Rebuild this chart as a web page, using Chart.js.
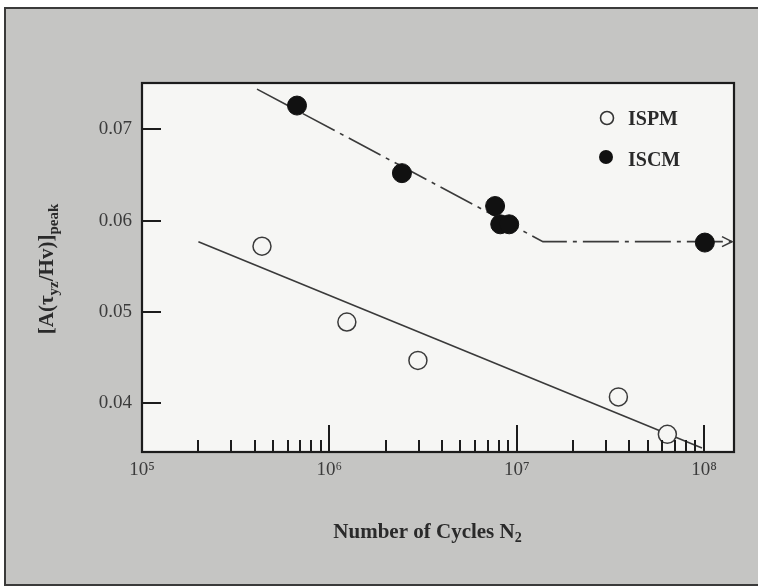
<!DOCTYPE html>
<html>
<head>
<meta charset="utf-8">
<script src="https://cdn.jsdelivr.net/npm/chart.js@4/dist/chart.umd.min.js"></script>
<style>
  html, body { margin: 0; padding: 0; background: #ffffff; }
  canvas { display: block; }
</style>
</head>
<body>
<canvas id="c" width="758" height="587"></canvas>
<script>
// ---- data ----
const ispmN = [4.37e5, 1.24e6, 2.97e6, 3.49e7, 6.37e7];
const ispmV = [0.0572, 0.0489, 0.0447, 0.0407, 0.0366];
const iscmN = [6.72e5, 2.44e6, 7.67e6, 8.17e6, 9.12e6, 1.01e8];
const iscmV = [0.0726, 0.0652, 0.0616, 0.0596, 0.0596, 0.0576];
const ispmFitN = [2.0e5, 9.75e7];
const ispmFitV = [0.0577, 0.0351];
const iscmFitN = [4.11e5, 1.38e7, 1.41e8];
const iscmFitV = [0.0744, 0.0577, 0.0577];
const yTicks = [0.04, 0.05, 0.06, 0.07];
const xTicks = [1e5, 1e6, 1e7, 1e8];
const xTickLabels = ['10\u2075', '10\u2076', '10\u2077', '10\u2078'];
const seriesNames = ['ISPM', 'ISCM'];

const pts = (xs, ys) => xs.map((x, i) => ({ x: x, y: ys[i] }));
const SERIF = '"Liberation Serif", "Times New Roman", serif';

const framePlugin = {
  id: 'frame',
  beforeDraw(chart) {
    const ctx = chart.ctx, a = chart.chartArea;
    ctx.save();
    ctx.fillStyle = '#ffffff';
    ctx.fillRect(0, 0, chart.width, chart.height);
    ctx.fillStyle = '#c5c5c3';
    ctx.fillRect(5, 8, chart.width - 5, 577);
    ctx.strokeStyle = '#3a3a3a';
    ctx.lineWidth = 2;
    ctx.beginPath();
    ctx.moveTo(chart.width, 8); ctx.lineTo(5, 8); ctx.lineTo(5, 585); ctx.lineTo(chart.width, 585);
    ctx.stroke();
    ctx.fillStyle = '#f6f6f4';
    ctx.fillRect(a.left, a.top, a.right - a.left, a.bottom - a.top);
    ctx.restore();
  },
  afterDraw(chart) {
    const ctx = chart.ctx, a = chart.chartArea;
    const xs = chart.scales.x, ys = chart.scales.y;
    ctx.save();
    // plot box
    ctx.strokeStyle = '#1c1c1c';
    ctx.lineWidth = 2.2;
    ctx.strokeRect(a.left, a.top, a.right - a.left, a.bottom - a.top);
    // inward y ticks
    ctx.lineWidth = 2;
    ctx.beginPath();
    yTicks.forEach(v => {
      const y = Math.round(ys.getPixelForValue(v));
      ctx.moveTo(a.left, y); ctx.lineTo(a.left + 19, y);
    });
    // inward x ticks (major + minor)
    for (let d = 5; d <= 8; d++) {
      for (let m = 1; m <= 9; m++) {
        const v = m * Math.pow(10, d);
        if (v <= xs.min || v >= xs.max) continue;
        const x = Math.round(xs.getPixelForValue(v));
        const len = m === 1 ? 27 : 12;
        ctx.moveTo(x, a.bottom); ctx.lineTo(x, a.bottom - len);
      }
    }
    ctx.stroke();
    // arrow head at the end of the ISCM trend line
    const meta = chart.getDatasetMeta(3);
    const last = meta.data[meta.data.length - 1];
    ctx.strokeStyle = '#3a3a3a';
    ctx.lineWidth = 1.6;
    ctx.beginPath();
    ctx.moveTo(last.x - 10, last.y - 5);
    ctx.lineTo(last.x, last.y);
    ctx.lineTo(last.x - 10, last.y + 5);
    ctx.stroke();
    // legend
    ctx.lineWidth = 1.6;
    ctx.strokeStyle = '#333';
    ctx.fillStyle = '#f6f6f4';
    ctx.beginPath(); ctx.arc(607, 118, 6.5, 0, Math.PI * 2); ctx.fill(); ctx.stroke();
    ctx.fillStyle = '#111';
    ctx.beginPath(); ctx.arc(606, 157, 7, 0, Math.PI * 2); ctx.fill();
    ctx.fillStyle = '#2a2a2a';
    ctx.font = 'bold 20px ' + SERIF;
    ctx.textAlign = 'left';
    ctx.textBaseline = 'alphabetic';
    ctx.fillText(seriesNames[0], 628, 125);
    ctx.fillText(seriesNames[1], 628, 166);
    // x axis title with subscript
    const mainF = 'bold 21px ' + SERIF, subF = 'bold 14px ' + SERIF;
    ctx.font = mainF;
    const t1 = 'Number of Cycles N';
    const w1 = ctx.measureText(t1).width;
    ctx.font = subF;
    const w2 = ctx.measureText('2').width;
    let x0 = 427.5 - (w1 + w2) / 2;
    ctx.font = mainF; ctx.fillText(t1, x0, 538);
    ctx.font = subF; ctx.fillText('2', x0 + w1, 542);
    // y axis title, rotated, with subscripts
    const yMainF = 'bold 21px ' + SERIF, ySubF = 'bold 15px ' + SERIF;
    const parts = [['[A(\u03C4', 0], ['yz', 1], ['/Hv)]', 0], ['peak', 1]];
    let total = 0;
    parts.forEach(p => { ctx.font = p[1] ? ySubF : yMainF; total += ctx.measureText(p[0]).width; });
    ctx.translate(47, 269);
    ctx.rotate(-Math.PI / 2);
    let px = -total / 2;
    parts.forEach(p => {
      ctx.font = p[1] ? ySubF : yMainF;
      ctx.fillText(p[0], px, p[1] ? 11 : 6);
      px += ctx.measureText(p[0]).width;
    });
    ctx.restore();
  }
};

new Chart(document.getElementById('c'), {
  type: 'scatter',
  data: {
    datasets: [
      { label: seriesNames[0], data: pts(ispmN, ispmV), showLine: false,
        pointRadius: 9, pointBorderWidth: 1.5, pointBorderColor: '#3a3a3a', pointBackgroundColor: '#f6f6f4' },
      { label: seriesNames[1], data: pts(iscmN, iscmV), showLine: false,
        pointRadius: 9.5, pointBorderWidth: 1, pointBorderColor: '#111', pointBackgroundColor: '#111' },
      { label: 'ISPM fit', data: pts(ispmFitN, ispmFitV), showLine: true, pointRadius: 0,
        borderColor: '#3a3a3a', borderWidth: 1.6, tension: 0 },
      { label: 'ISCM fit', data: pts(iscmFitN, iscmFitV), showLine: true, pointRadius: 0,
        borderColor: '#3a3a3a', borderWidth: 1.6, borderDash: [36, 6, 4, 6], tension: 0 }
    ]
  },
  options: {
    responsive: false,
    animation: false,
    devicePixelRatio: 1,
    layout: { padding: { top: 83, right: 24, left: 0, bottom: 0 } },
    plugins: { legend: { display: false }, tooltip: { enabled: false } },
    scales: {
      x: {
        type: 'logarithmic', min: 1e5, max: 1.445e8,
        afterBuildTicks: s => { s.ticks = xTicks.map(v => ({ value: v })); },
        afterFit: s => { s.height = 135; },
        grid: { display: false, drawTicks: false },
        border: { display: false },
        ticks: { autoSkip: false, maxRotation: 0, padding: 7, color: '#3b3b3b',
          font: { family: SERIF, size: 19 },
          callback: v => xTickLabels[xTicks.indexOf(v)] }
      },
      y: {
        type: 'linear', min: 0.03467, max: 0.07507,
        afterBuildTicks: s => { s.ticks = yTicks.map(v => ({ value: v })); },
        afterFit: s => { s.width = 142; },
        grid: { display: false, drawTicks: false },
        border: { display: false },
        ticks: { padding: 10, color: '#3b3b3b', font: { family: SERIF, size: 19 },
          callback: v => v.toFixed(2) }
      }
    }
  },
  plugins: [framePlugin]
});
</script>
</body>
</html>
